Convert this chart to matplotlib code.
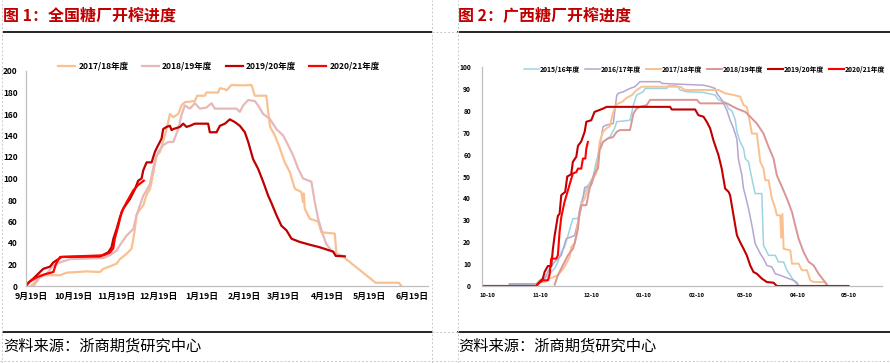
import matplotlib
matplotlib.use("Agg")
import matplotlib.pyplot as plt
from matplotlib.lines import Line2D

plt.rcParams['font.family'] = ['Noto Sans CJK SC', 'DejaVu Sans']

# ---- 图1 全国糖厂开榨进度 (x = 距9月19日天数, y = 开榨糖厂数) ----
nat_tick_days = [0, 30, 61, 91, 122, 153, 181, 212, 242, 273]
nat_tick_labels = ['9月19日', '10月19日', '11月19日', '12月19日', '1月19日',
                   '2月19日', '3月19日', '4月19日', '5月19日', '6月19日']

nat_1718_x = [0, 1.7, 6.4, 20.8, 25.5, 39.8, 49.4, 51.8, 55.4, 61.3,
              63.7, 68.5, 72, 73.3, 74.4, 75.6, 76.8, 80.4, 82.8, 85.2,
              87.6, 90, 92.3, 95.9, 98.3, 99.5, 101.9, 105.5, 107.8, 110.2,
              117.4, 119, 124.5, 125.7, 134, 135.3, 138.9, 140, 143.6, 152,
              158, 160.3, 168.6, 169.9, 171.3, 174.7, 178, 181.8, 185.4, 189,
              193.7, 194.9, 195.4, 196.1, 199.7, 205.7, 208, 217.6, 218.8, 222.4,
              246.9, 263.6, 265.3]
nat_1718_y = [0, 2, 10, 10, 12.4, 13.6, 13, 16, 17.7, 20.8,
              25, 30, 34.7, 44, 53, 65.7, 69, 75, 85, 90,
              105, 121.5, 124.6, 140, 152.5, 160, 157, 160, 168, 171,
              172, 177, 177, 180, 180, 184, 183, 182, 187, 186.6,
              187, 177, 177, 162, 148, 140, 129, 115, 106, 90.5,
              87.4, 78, 86, 72, 62.6, 60, 50, 48.7, 30, 28.5,
              3, 3, 0]

nat_1819_x = [1.7, 6.4, 11.2, 16, 20.8, 27.9, 51.8, 56.5, 61.3, 63.7,
              68.5, 73.3, 75.6, 78, 80.4, 82.8, 85.2, 87.6, 89, 91.1,
              94.7, 98.3, 101.9, 105.5, 107.8, 110.2, 113.8, 117.4, 121, 125.7,
              129.3, 131.7, 147.2, 149.6, 152, 155.6, 160.3, 162.7, 166.3, 171,
              175.8, 180.6, 184.2, 187.8, 191.4, 194.9, 200.9, 203.3, 205.7, 209.3,
              211.6, 215.2, 220, 221]
nat_1819_y = [0, 8, 11.5, 19, 22, 25, 26, 28.5, 33, 38,
              47, 53, 66, 75, 84, 89, 95, 110, 118, 124.6,
              131, 134, 134, 146, 159, 168, 165, 170, 165, 166,
              170, 165, 165, 162, 168, 173, 172, 168, 160, 155.6,
              146, 140, 131, 121.5, 109, 100, 97, 78, 62.6, 47,
              39, 33, 29, 28]

nat_1920_x = [-3.5, -3, 1.7, 6.4, 8.8, 13.6, 16, 19.6, 22, 49.4,
              55.4, 57.7, 59, 61.3, 63.7, 66.1, 70.9, 74.4, 76.8, 79.2,
              80.4, 82.8, 86.4, 88.8, 91.1, 93.5, 94.7, 97.1, 99.5, 100.7,
              101.9, 106.7, 109, 111.4, 113.8, 117.4, 126.9, 128.1, 132.9, 135.3,
              138.9, 142.4, 146, 149.6, 153.2, 155.6, 159.1, 162.7, 166.3, 169.9,
              172.3, 175.8, 179.4, 183, 186.6, 192.5, 199.7, 206.9, 214, 216.4,
              218.3, 224.8]
nat_1920_y = [0, 2, 7, 13, 16, 18, 22, 25, 27, 27.5,
              31.5, 36, 44, 53, 64, 72, 81, 90, 98, 100,
              107.6, 115, 115, 125, 131, 137, 146, 148, 149, 145,
              146, 148, 151, 148, 149, 151, 151, 143, 143, 149,
              151, 155, 152.5, 149, 143, 134, 118, 109, 97, 84,
              77, 66, 56, 51.8, 44, 41, 38.4, 36, 33, 32,
              28, 27.6]

nat_2021_x = [-3.5, -1, 4, 10, 16, 18, 20.8, 51.8, 56.5, 58.9,
              60, 62.5, 64.9, 68.5, 73.3, 76.8, 80.8]
nat_2021_y = [0, 4, 8, 11, 13, 21, 27, 28.5, 31, 35,
              44, 56, 69, 78, 89, 94, 98]

# ---- 图2 广西糖厂开榨进度 (x = 距10月10日天数, y = 开榨糖厂数) ----
gx_tick_days = [0, 31, 61, 92, 123, 151, 182, 212]
gx_tick_labels = ['10-10', '11-10', '12-10', '01-10', '02-10', '03-10', '04-10', '05-10']

gx_1516_x = [13, 28.8, 30.7, 33.7, 36.6, 39.6, 41.5, 43.5, 45.4, 47.4,
             50.3, 53.3, 55.2, 58.2, 62.1, 64, 66, 68, 71.9, 74.8,
             76, 83.8, 85.8, 87.7, 91.6, 92.6, 105.3, 106.3, 111.2, 113.2,
             117.1, 126.9, 128.8, 133.7, 135.7, 139.6, 141.6, 143.5, 145.5, 146.5,
             148.4, 150.4, 151.4, 153.3, 155.3, 157.2, 161.1, 162.1, 165.1, 169,
             170.9, 173.9, 175.8, 177.8, 179.7, 181.7, 182.7]
gx_1516_y = [0.6, 1, 2.6, 3.4, 5.6, 8, 11, 15.5, 17.8, 23,
             30.8, 30.8, 38.4, 44.5, 49.8, 56.7, 62.8, 65.8, 68, 72,
             75, 75.7, 82.6, 87.2, 88.7, 90.2, 90.2, 91.4, 91.4, 89.5,
             88.7, 88.4, 88, 87.2, 85, 84, 81, 80, 76, 70.4,
             65.8, 62.8, 58.2, 56.7, 49, 42.2, 42.2, 18.6, 14, 14,
             11, 11, 7.2, 4.9, 2.6, 1.8, 0]

gx_1617_x = [13, 29.8, 33.7, 36.6, 39.6, 43.5, 46.4, 51.3, 53.3, 55.2,
             57.2, 61.1, 63, 65, 66, 68, 69.9, 74, 76, 77,
             79.9, 83.8, 86.7, 89.7, 101.4, 102.4, 126.9, 130.8, 133.7, 134.7,
             137.6, 140.6, 142.5, 144.5, 146.5, 147.4, 149.4, 150.4, 151.4, 153.3,
             155.3, 157.2, 160.2, 162.1, 164.1, 167, 169, 171.9, 176.8, 179.7,
             181.7, 182.7]
gx_1617_y = [1, 1, 3.4, 8, 11, 14, 21.6, 23, 29.3, 35.4,
             45, 46, 50.6, 56.7, 63.5, 72.7, 73.5, 74.2, 87, 88,
             88.7, 90.2, 91, 93.3, 93.3, 92.5, 91.7, 91, 90.2, 88,
             85, 80.3, 75.7, 72, 67, 58, 50.6, 44.5, 41.5, 35.4,
             27.7, 19.4, 14.8, 12.5, 9.4, 8.7, 5.6, 4.9, 3.4, 2.6,
             1, 0]

gx_1718_x = [29.8, 30.7, 33.7, 36.6, 41.5, 45.4, 48.4, 49.3, 51.3, 52.3,
             53.3, 55.2, 57.2, 60.1, 62.1, 64, 65, 66, 68, 70,
             72, 74, 76, 79, 82, 85, 87.7, 90.7, 113.2, 116.1,
             135.7, 139.6, 144.5, 148.4, 150.4, 152.3, 153.3, 155.3, 158.2, 160.2,
             162.1, 163.1, 165.1, 167, 169, 169.9, 171.9, 172.5, 173.2, 173.9,
             177.8, 178.8, 182.7, 184.6, 187.6, 189.5, 191.5, 198.3, 199.3]
gx_1718_y = [0, 1.8, 1.8, 3.4, 4.9, 8.7, 13.3, 17.8, 19.4, 23,
             29.3, 36.9, 40, 46, 49, 51.4, 58.2, 65.8, 70.4, 72,
             73, 79.5, 83, 84, 86, 87.2, 89.5, 91, 91, 89.5,
             89.5, 88, 87.2, 86.5, 82.6, 81.8, 78, 69.6, 69.6, 56.7,
             53.6, 48.3, 48.3, 40, 35.4, 32.3, 32.3, 22, 33, 17,
             16.3, 10.2, 10.2, 7.2, 7.2, 2.6, 1.8, 1.8, 0]

gx_1819_x = [39.6, 41.5, 44.4, 47.4, 50.3, 51.3, 53.3, 54.2, 55.2, 58.2,
             60.1, 63, 65, 66, 68, 70.9, 73.8, 76, 77.9, 83.8,
             85.8, 87.7, 89.7, 93.6, 95.6, 123, 124.9, 140.6, 144.5, 146.5,
             151.4, 154.3, 158.2, 162.1, 165.1, 168, 169.9, 172.9, 175.8, 178.8,
             180.7, 182.7, 185.6, 188.6, 191.5, 194.4, 197.4, 199.3]
gx_1819_y = [0.6, 4.9, 9.4, 14, 17, 19.4, 26.2, 33.8, 36.9, 36.9,
             44.5, 51.4, 53.6, 62, 65.8, 67.4, 68, 70.4, 71.2, 71.2,
             78.8, 81, 81.8, 82.6, 85, 85, 83.4, 83.4, 81.8, 81,
             79.5, 77.3, 74.2, 69.6, 63.5, 58.2, 50.6, 45.3, 40, 33.8,
             27.7, 21.6, 15.5, 11, 9.4, 5.6, 2.6, 0.6]

gx_1920_x = [-3, 28.8, 30.7, 32.7, 33.7, 35.6, 37.6, 38.6, 39.6, 41.5,
             42.5, 43.5, 45.8, 47, 49.3, 50.3, 52.3, 53.3, 55.2, 57.2,
             58.2, 61.1, 63, 68, 70.1, 107.3, 108.3, 122, 123.9, 126.9,
             128.8, 130.8, 132.7, 135.7, 137.6, 139.6, 141.6, 142.5, 144.5, 146.5,
             148.4, 150.4, 152.3, 154.3, 156.2, 158.2, 161.1, 164.1, 168, 169.9,
             212]
gx_1920_y = [0, 0, 1.8, 3.4, 6.4, 9.1, 9.1, 17, 23, 32,
             33, 41.5, 43, 50, 51, 56.7, 59, 64, 66, 70.4,
             75, 75.7, 79.5, 81, 81.8, 81.8, 80.6, 80.6, 78, 77.3,
             75, 72, 66.6, 59.7, 53.6, 44.5, 43, 41.5, 32.3, 23.2,
             20, 17, 14, 9.4, 6.4, 5.6, 3.4, 1.8, 1.5, 0,
             0]

gx_2021_x = [-3, 28.8, 29.8, 32.7, 35.6, 36.6, 37.6, 40.5, 41.5, 42.5,
             43.5, 45.4, 47.4, 50.3, 52.3, 53.3, 55.2, 56.2, 57.6, 58.2, 59.1]
gx_2021_y = [0, 0, 1, 2.6, 2.6, 4.9, 12.5, 12.5, 14, 24.7,
             31.5, 38.4, 43.7, 51.4, 52, 53.6, 53.6, 58.2, 58.2, 62.8, 65.8]

# colours
C1516 = '#9DD3E2'
C1617 = '#B5A6D0'
C1718 = '#FAC090'
C1819_L = '#E6B9B8'
C1819_R = '#D99694'
C1920 = '#C00000'
C2021 = '#FF0000'
AXIS_GREY = '#BFBFBF'
TITLE_RED = '#C00000'

W, H = 890, 363
fig = plt.figure(figsize=(W / 100, H / 100), dpi=100)


def fx(x):
    return x / W


def fy(y):
    return 1 - y / H


def style_axes(ax):
    for s in ['top', 'right']:
        ax.spines[s].set_visible(False)
    for s in ['left', 'bottom']:
        ax.spines[s].set_color(AXIS_GREY)
        ax.spines[s].set_linewidth(0.9)
    ax.tick_params(length=0)


# ---- left chart ----
ax1 = fig.add_axes([fx(26), fy(286), fx(428) - fx(26), fy(71) - fy(286)])
style_axes(ax1)
lw = 1.6
ax1.plot(nat_1718_x, nat_1718_y, color=C1718, lw=lw, label='2017/18年度')
ax1.plot(nat_1819_x, nat_1819_y, color=C1819_L, lw=lw, label='2018/19年度')
ax1.plot(nat_1920_x, nat_1920_y, color=C1920, lw=lw, label='2019/20年度')
ax1.plot(nat_2021_x, nat_2021_y, color=C2021, lw=lw, label='2020/21年度')
ax1.set_xlim(-3.6, 284.4)
ax1.set_ylim(0, 200)
ax1.set_yticks(range(0, 201, 20))
ax1.set_xticks(nat_tick_days)
ax1.set_xticklabels(nat_tick_labels)
ax1.tick_params(axis='y', labelsize=6, pad=6)
ax1.tick_params(axis='x', labelsize=6.3, pad=4)
for t in ax1.get_xticklabels() + ax1.get_yticklabels():
    t.set_fontweight('bold')
ax1.legend(loc='center', bbox_to_anchor=(0.48, 1.023), ncol=4, frameon=False,
           prop={'size': 6.1, 'weight': 'bold'}, handlelength=2.0,
           handletextpad=0.35, columnspacing=1.6, borderpad=0, borderaxespad=0)

# ---- right chart ----
ax2 = fig.add_axes([fx(482), fy(286), fx(882) - fx(482), fy(67) - fy(286)])
style_axes(ax2)
ax2.plot(gx_1516_x, gx_1516_y, color=C1516, lw=1.1, label='2015/16年度')
ax2.plot(gx_1617_x, gx_1617_y, color=C1617, lw=1.1, label='2016/17年度')
ax2.plot(gx_1718_x, gx_1718_y, color=C1718, lw=1.4, label='2017/18年度')
ax2.plot(gx_1819_x, gx_1819_y, color=C1819_R, lw=1.4, label='2018/19年度')
ax2.plot(gx_1920_x, gx_1920_y, color=C1920, lw=1.5, label='2019/20年度')
ax2.plot(gx_2021_x, gx_2021_y, color=C2021, lw=1.5, label='2020/21年度')
ax2.set_xlim(-3, 231.6)
ax2.set_ylim(0, 100)
ax2.set_yticks(range(0, 101, 10))
ax2.set_xticks(gx_tick_days)
ax2.set_xticklabels(gx_tick_labels)
ax2.tick_params(axis='y', labelsize=4.8, pad=8)
ax2.tick_params(axis='x', labelsize=4.2, pad=5)
for t in ax2.get_xticklabels() + ax2.get_yticklabels():
    t.set_fontweight('bold')
ax2.legend(loc='center left', bbox_to_anchor=(0.105, 0.99), ncol=6, frameon=False,
           prop={'size': 4.9, 'weight': 'bold'}, handlelength=2.2,
           handletextpad=0.1, columnspacing=0.75, borderpad=0, borderaxespad=0)

# ---- titles, rules and sources ----
fig.text(fx(3), fy(16), '图 1：全国糖厂开榨进度', color=TITLE_RED,
         fontsize=11.5, fontweight='bold', va='center', ha='left')
fig.text(fx(458), fy(16), '图 2：广西糖厂开榨进度', color=TITLE_RED,
         fontsize=11.5, fontweight='bold', va='center', ha='left')
fig.text(fx(3), fy(346), '资料来源：浙商期货研究中心', fontsize=11, va='center', ha='left')
fig.text(fx(458), fy(346), '资料来源：浙商期货研究中心', fontsize=11, va='center', ha='left')

for x0, x1 in [(3, 432), (458, 890)]:
    for y in [31.5, 332]:
        fig.add_artist(Line2D([fx(x0), fx(x1)], [fy(y), fy(y)], color='black', lw=1.2))

dash = dict(color='#C8C8C8', lw=0.7, ls=(0, (2, 2)))
for x in [2, 432, 458]:
    fig.add_artist(Line2D([fx(x), fx(x)], [0, 1], **dash))
for y in [31.5, 332]:
    fig.add_artist(Line2D([fx(432), fx(458)], [fy(y), fy(y)], **dash))
fig.add_artist(Line2D([0, 1], [fy(361), fy(361)], **dash))

fig.savefig('out.png', dpi=100, facecolor='white')
